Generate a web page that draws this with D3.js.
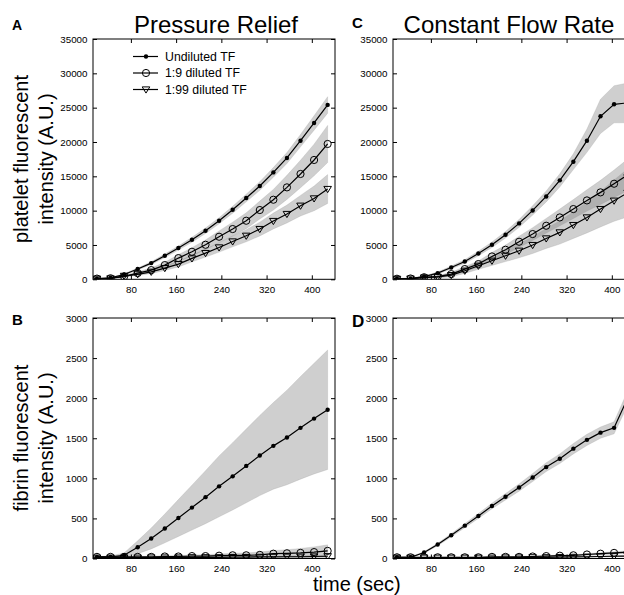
<!DOCTYPE html>
<html>

<head>
  <meta charset="utf-8">
  <title>Pressure Relief vs Constant Flow Rate</title>
  <style type="text/css">
    body { margin: 0; background: #fff; }
    svg { display: block; font-family: "Liberation Sans", Arial, sans-serif; }
    .tick text { font-size: 9.8px; fill: #000; }
    .tick line { stroke: #000; stroke-width: 1px; }
    .domain { display: none; }
    .big { font-size: 20px; }
    .title { font-size: 24px; }
    .letter { font-weight: bold; }
  </style>
  <script src="https://cdn.jsdelivr.net/npm/d3@7"></script>
</head>

<body>
  <script>
    // sampling times (sec)
    var times = [20, 44, 68, 92, 116, 140, 164, 188, 212, 236, 260, 284, 308, 332, 356, 380, 404, 428];
    var xTicks = [80, 160, 240, 320, 400];
    var seriesNames = ['Undiluted TF', '1:9 diluted TF', '1:99 diluted TF'];

    // A: platelet, pressure relief
    var aUndil = [100, 200, 700, 1490, 2360, 3430, 4550, 5760, 7070, 8530, 10130, 11840, 13590, 15570, 17670, 20190, 22770, 25400];
    var aUndilSd = [30, 60, 100, 150, 200, 250, 300, 350, 400, 450, 500, 560, 630, 700, 800, 900, 1050, 1200];
    var a9 = [100, 150, 400, 900, 1340, 2070, 3090, 4010, 5030, 6200, 7320, 8530, 10090, 11590, 13390, 15340, 17380, 19710];
    var a9Sd = [30, 50, 100, 200, 300, 400, 500, 600, 700, 850, 1000, 1150, 1300, 1500, 1750, 2000, 2300, 2700];
    var a99 = [80, 120, 500, 730, 1090, 1630, 2210, 3040, 3820, 4640, 5510, 6340, 7320, 8490, 9510, 10720, 11780, 13150];
    var a99Sd = [30, 50, 100, 180, 250, 330, 420, 500, 580, 680, 780, 880, 1000, 1150, 1300, 1500, 1800, 2100];

    // C: platelet, constant flow rate
    var cUndil = [100, 100, 400, 900, 1720, 2600, 3760, 5030, 6490, 8140, 10030, 12070, 14410, 17130, 20190, 23740, 25490, 25700];
    var cUndilSd = [30, 50, 100, 150, 200, 260, 330, 400, 480, 570, 680, 800, 950, 1150, 1700, 2500, 2700, 2900];
    var c9 = [80, 120, 300, 400, 760, 1490, 2220, 3330, 4300, 5470, 6590, 7800, 9010, 10230, 11490, 12660, 13920, 15200];
    var c9Sd = [30, 50, 80, 150, 250, 350, 450, 560, 680, 800, 930, 1070, 1220, 1380, 1550, 1750, 2000, 2300];
    var c99 = [60, 100, 250, 350, 610, 1240, 1970, 2700, 3430, 4160, 4990, 5950, 6830, 7900, 9010, 10230, 11450, 12600];
    var c99Sd = [30, 50, 80, 150, 250, 380, 520, 680, 850, 1030, 1230, 1450, 1700, 1950, 2250, 2600, 3000, 3500];

    // B: fibrin, pressure relief
    var bUndil = [20, 20, 40, 140, 250, 375, 505, 635, 765, 900, 1025, 1155, 1285, 1405, 1510, 1630, 1745, 1855];
    var bUndilSd = [5, 10, 30, 80, 130, 180, 230, 280, 330, 380, 420, 460, 500, 540, 590, 640, 690, 745];
    var b9 = [20, 20, 20, 20, 20, 25, 25, 30, 30, 35, 40, 40, 45, 60, 65, 70, 80, 95];
    var b9Sd = [5, 5, 5, 5, 8, 10, 12, 15, 18, 20, 25, 30, 35, 40, 45, 55, 65, 75];
    var b99 = [10, 10, 10, 10, 12, 12, 12, 15, 15, 15, 18, 18, 20, 20, 22, 22, 25, 28];
    var b99Sd = [3, 3, 3, 4, 4, 5, 5, 6, 6, 7, 8, 8, 9, 10, 10, 11, 12, 13];

    // D: fibrin, constant flow rate
    var dUndil = [15, 15, 75, 175, 290, 410, 530, 655, 770, 885, 1010, 1140, 1245, 1370, 1480, 1570, 1630, 2000];
    var dUndilSd = [5, 5, 10, 15, 20, 25, 30, 35, 40, 45, 50, 55, 60, 65, 70, 70, 75, 90];
    var d9 = [15, 15, 15, 15, 15, 15, 15, 20, 20, 20, 25, 30, 35, 40, 50, 60, 70, 80];
    var d9Sd = [3, 3, 3, 3, 3, 4, 4, 5, 5, 6, 6, 7, 8, 9, 10, 12, 14, 16];
    var d99 = [10, 10, 10, 10, 10, 10, 10, 10, 12, 12, 15, 15, 18, 20, 22, 25, 28, 30];
    var d99Sd = [3, 3, 3, 3, 3, 3, 3, 3, 4, 4, 4, 5, 5, 6, 6, 7, 8, 9];

    var plateletTicks = [0, 5000, 10000, 15000, 20000, 25000, 30000, 35000];
    var fibrinTicks = [0, 500, 1000, 1500, 2000, 2500, 3000];

    var W = 624, H = 595;
    var svg = d3.select('body').append('svg').attr('width', W).attr('height', H);

    var panels = [
      { id: 'A', left: 93, top: 39, bottom: 279.3, yMax: 35000, yTicks: plateletTicks, legend: true,
        series: [[aUndil, aUndilSd], [a9, a9Sd], [a99, a99Sd]] },
      { id: 'C', left: 393, top: 39, bottom: 279.3, yMax: 35000, yTicks: plateletTicks,
        series: [[cUndil, cUndilSd], [c9, c9Sd], [c99, c99Sd]] },
      { id: 'B', left: 93, top: 318, bottom: 558.5, yMax: 3000, yTicks: fibrinTicks,
        series: [[bUndil, bUndilSd], [b9, b9Sd], [b99, b99Sd]] },
      { id: 'D', left: 393, top: 318, bottom: 558.5, yMax: 3000, yTicks: fibrinTicks,
        series: [[dUndil, dUndilSd], [d9, d9Sd], [d99, d99Sd]] }
    ];
    var plotW = 242;

    function marker(g, kind, x, y) {
      if (kind === 0) {
        g.append('circle').attr('cx', x).attr('cy', y).attr('r', 2.2).attr('fill', '#000');
      } else if (kind === 1) {
        g.append('circle').attr('cx', x).attr('cy', y).attr('r', 3.6)
          .attr('fill', 'none').attr('stroke', '#000').attr('stroke-width', 1);
      } else {
        g.append('path').attr('transform', 'translate(' + x + ',' + y + ')')
          .attr('d', 'M-3.8,-2.6L3.8,-2.6L0,3.6Z')
          .attr('fill', 'none').attr('stroke', '#000').attr('stroke-width', 1);
      }
    }

    panels.forEach(function (p) {
      var x = d3.scaleLinear().domain([13, 441]).range([p.left, p.left + plotW]);
      var y = d3.scaleLinear().domain([0, p.yMax]).range([p.bottom, p.top]);
      var g = svg.append('g');

      g.append('clipPath').attr('id', 'clip' + p.id)
        .append('rect').attr('x', p.left).attr('y', p.top)
        .attr('width', plotW).attr('height', p.bottom - p.top);

      var plot = g.append('g').attr('clip-path', 'url(#clip' + p.id + ')');

      // shaded bands (mean +/- sd)
      var area = d3.area()
        .x(function (d, i) { return x(times[i]); })
        .y0(function (d) { return y(d[0] - d[1]); })
        .y1(function (d) { return y(d[0] + d[1]); });
      p.series.forEach(function (s) {
        var rows = s[0].map(function (v, i) { return [v, s[1][i]]; });
        plot.append('path').attr('d', area(rows))
          .attr('fill', '#7a7a7a').attr('fill-opacity', 0.36)
          .attr('stroke', '#9a9a9a').attr('stroke-opacity', 0.4).attr('stroke-width', 0.6);
      });

      // mean lines with markers
      var line = d3.line().x(function (d, i) { return x(times[i]); }).y(function (d) { return y(d); });
      p.series.slice().reverse().forEach(function (s, j) {
        var k = 2 - j;
        plot.append('path').attr('d', line(s[0]))
          .attr('fill', 'none').attr('stroke', '#000').attr('stroke-width', 1.2);
        s[0].forEach(function (v, i) { marker(plot, k, x(times[i]), y(v)); });
      });

      // axes, ticks pointing inward
      var ax = g.append('g');
      ax.append('g').attr('transform', 'translate(0,' + p.bottom + ')')
        .call(d3.axisBottom(x).tickValues(xTicks).tickSizeInner(-4).tickSizeOuter(0).tickPadding(7));
      ax.append('g').attr('transform', 'translate(0,' + p.top + ')')
        .call(d3.axisTop(x).tickValues(xTicks).tickSizeInner(-4).tickSizeOuter(0).tickFormat(''));
      ax.append('g').attr('transform', 'translate(' + p.left + ',0)')
        .call(d3.axisLeft(y).tickValues(p.yTicks).tickSizeInner(-4).tickSizeOuter(0).tickPadding(5.5)
          .tickFormat(d3.format('d')));
      ax.append('g').attr('transform', 'translate(' + (p.left + plotW) + ',0)')
        .call(d3.axisRight(y).tickValues(p.yTicks).tickSizeInner(-4).tickSizeOuter(0).tickFormat(''));
      ax.selectAll('.tick text').attr('font-family', null).attr('font-size', null);

      g.append('rect').attr('x', p.left).attr('y', p.top)
        .attr('width', plotW).attr('height', p.bottom - p.top)
        .attr('fill', 'none').attr('stroke', '#000').attr('stroke-width', 1);

      if (p.legend) {
        var lg = g.append('g');
        seriesNames.forEach(function (name, i) {
          var ly = 56.5 + i * 16.5;
          lg.append('line').attr('x1', 133).attr('x2', 158).attr('y1', ly).attr('y2', ly)
            .attr('stroke', '#000').attr('stroke-width', 1.2);
          marker(lg, i, 146, ly);
          lg.append('text').attr('x', 165).attr('y', ly).attr('dy', '0.35em')
            .attr('font-size', '12.3px').text(name);
        });
      }
    });

    // titles and panel letters
    svg.append('text').attr('class', 'title').attr('x', 216).attr('y', 33)
      .attr('text-anchor', 'middle').text('Pressure Relief');
    svg.append('text').attr('class', 'title').attr('x', 509).attr('y', 33)
      .attr('text-anchor', 'middle').text('Constant Flow Rate');

    svg.append('text').attr('class', 'letter').attr('x', 12).attr('y', 30).attr('font-size', '14px').text('A');
    svg.append('text').attr('class', 'letter').attr('x', 352).attr('y', 28).attr('font-size', '15px').text('C');
    svg.append('text').attr('class', 'letter').attr('x', 12).attr('y', 325).attr('font-size', '15px').text('B');
    svg.append('text').attr('class', 'letter').attr('x', 352).attr('y', 327).attr('font-size', '17px').text('D');

    // y axis titles
    function yTitle(cy, lines) {
      lines.forEach(function (t, i) {
        svg.append('text').attr('class', 'big')
          .attr('transform', 'translate(' + (28 + i * 25) + ',' + cy + ') rotate(-90)')
          .attr('text-anchor', 'middle').text(t);
      });
    }
    yTitle(159, ['platelet fluorescent', 'intensity (A.U.)']);
    yTitle(438, ['fibrin fluorescent', 'intensity (A.U.)']);

    svg.append('text').attr('class', 'big').attr('x', 313).attr('y', 591)
      .attr('font-size', '19.5px').text('time (sec)');
  </script>
</body>

</html>
